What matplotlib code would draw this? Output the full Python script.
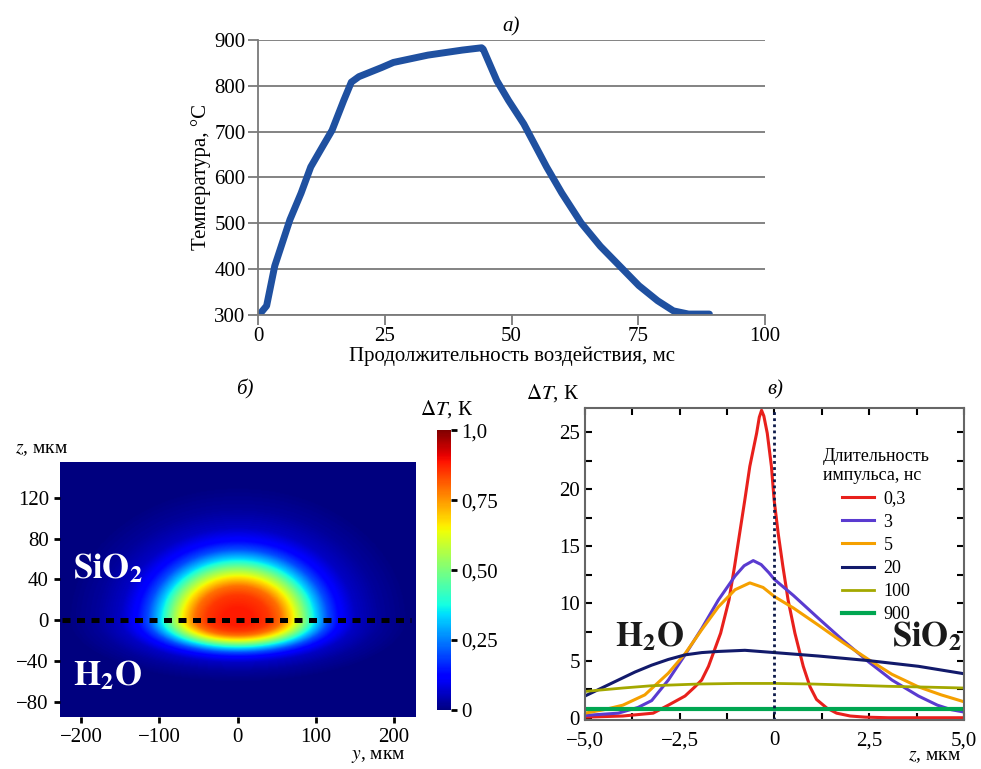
import numpy as np
import matplotlib
matplotlib.use('Agg')
import matplotlib.pyplot as plt
from matplotlib.ticker import MultipleLocator

plt.rcParams['font.family'] = ['Liberation Serif', 'DejaVu Serif']
plt.rcParams['mathtext.fontset'] = 'stix'

# --- panel a: temperature vs exposure time
t_ms = [0.2, 1.7, 3.3, 6.3, 8.5, 10.4, 12.7, 14.6, 16.9, 18.4, 19.9, 24.4, 26.7,
        33.5, 40.3, 44.1, 44.4, 47.1, 49.4, 52.4, 56.9, 59.9, 63.7, 67.5, 71.3,
        75.1, 78.8, 81.9, 84.9, 89.0]
temp_c = [300, 320, 407, 508, 566, 623, 667, 703, 768, 808, 820, 840, 851,
          867, 878, 883, 880, 811, 768, 717, 623, 566, 501, 450, 407,
          364, 331, 309, 302, 302]

# --- panel b: radial profile of dT read along z=0, plus vertical squeeze factors
prof_r = [0, 20, 40, 55, 70, 85, 100, 115, 130, 150, 180, 220, 400]
prof_dt = [0.88, 0.88, 0.85, 0.79, 0.66, 0.5, 0.33, 0.2, 0.12, 0.06, 0.025, 0.0, 0.0]
squeeze_up = 0.6
squeeze_down = 0.28

# --- panel c: dT(z) for pulse durations
z_03 = [-5.0, -4.0, -3.2, -2.8, -2.36, -2.1, -1.92, -1.74, -1.42, -1.20, -1.05,
        -0.92, -0.78, -0.65, -0.47, -0.40, -0.34, -0.28, -0.19, -0.08, -0.01, 0.10,
        0.22, 0.36, 0.54, 0.76, 0.94, 1.11, 1.38, 1.64, 2.0, 2.4, 3.0, 5.0]
dt_03 = [0.05, 0.15, 0.4, 1.1, 1.9, 2.7, 3.3, 4.5, 7.4, 10.3, 13.3,
         16.1, 19.1, 22.0, 24.9, 26.3, 26.9, 26.4, 24.9, 22.0, 19.1, 16.1,
         13.3, 10.3, 7.4, 4.5, 2.7, 1.6, 0.85, 0.4, 0.15, 0.05, 0.0, 0.0]
z_3 = [-5.0, -4.12, -3.6, -3.24, -2.8, -2.36, -1.92, -1.48, -1.04, -0.8, -0.56,
       -0.35, -0.15, 0.0, 0.5, 1.16, 1.8, 2.48, 3.1, 3.8, 4.3, 4.67, 5.0]
dt_3 = [0.2, 0.4, 0.9, 1.5, 3.3, 5.5, 7.8, 10.3, 12.4, 13.3, 13.75,
        13.4, 12.7, 12.1, 10.7, 8.7, 6.8, 4.9, 3.3, 1.9, 1.1, 0.7, 0.5]
z_5 = [-5.0, -4.5, -4.0, -3.42, -2.8, -2.36, -1.92, -1.48, -1.04, -0.65, -0.3,
       0.0, 0.5, 1.16, 1.8, 2.48, 3.1, 3.8, 4.4, 5.0]
dt_5 = [0.4, 0.7, 1.1, 2.0, 3.9, 5.6, 7.7, 9.7, 11.2, 11.8, 11.4,
        10.6, 9.6, 8.1, 6.6, 5.1, 3.8, 2.7, 2.0, 1.4]
z_20 = [-5.0, -4.56, -4.12, -3.68, -3.24, -2.8, -2.36, -1.92, -1.48, -0.78, 0.0,
        1.16, 2.48, 3.8, 5.0]
dt_20 = [1.9, 2.6, 3.3, 4.0, 4.6, 5.1, 5.5, 5.7, 5.8, 5.9, 5.7,
         5.4, 5.0, 4.5, 3.85]
z_100 = [-5.0, -4.0, -3.24, -2.0, -1.0, 0.0, 1.0, 2.0, 3.0, 4.0, 5.0]
dt_100 = [2.3, 2.6, 2.8, 2.95, 3.0, 3.0, 2.95, 2.85, 2.75, 2.68, 2.6]
z_900 = [-5.0, 5.0]
dt_900 = [0.75, 0.75]
pulse_labels = ['0,3', '3', '5', '20', '100', '900']
pulse_colors = ['#e8201c', '#5a3bd0', '#f5a000', '#121a6b', '#a3a800', '#00a651']

fig = plt.figure(figsize=(9.81, 7.69), dpi=100)

# ================= a)
ax1 = fig.add_axes([0.263, 0.5904, 0.517, 0.3576])
ax1.plot(t_ms, temp_c, color='#1f50a0', lw=5, solid_capstyle='round',
         solid_joinstyle='round')
ax1.set_xlim(0, 100)
ax1.set_ylim(300, 900)
ax1.set_xticks([0, 25, 50, 75, 100])
ax1.set_yticks(range(300, 901, 100))
ax1.grid(axis='y', color='#7a7a7a', lw=1.3)
ax1.set_axisbelow(True)
for s in ['top', 'right']:
    ax1.spines[s].set_visible(False)
for s in ['left', 'bottom']:
    ax1.spines[s].set_color('#7a7a7a')
    ax1.spines[s].set_linewidth(1.3)
ax1.tick_params(labelsize=15, length=7, width=1.3, color='#7a7a7a', pad=2)
ax1.tick_params(axis='x', pad=2)
ax1.set_xlabel('Продолжительность воздействия, мс', fontsize=15, labelpad=0)
ax1.set_ylabel('Температура, °C', fontsize=15, labelpad=2)
ax1.set_title('а)', fontsize=15, style='italic', pad=6)

# ================= б)
ax2 = fig.add_axes([0.0612, 0.0676, 0.362, 0.3316])
yy = np.linspace(-227, 227, 400)
zz = np.linspace(-95, 155, 260)
Y, Z = np.meshgrid(yy, zz)
sq = np.where(Z > 0, squeeze_up, squeeze_down)
R = np.sqrt(Y ** 2 + (Z / sq) ** 2)
field = np.interp(R, prof_r, prof_dt)
im = ax2.imshow(field, origin='lower', extent=[-227, 227, -95, 155], cmap='jet',
                vmin=0, vmax=1, aspect='auto', interpolation='bilinear')
ax2.plot([-225, 222], [0, 0], color='k', lw=3.6, ls=(0, (1.6, 1.3)))
ax2.set_xlim(-227, 227)
ax2.set_ylim(-95, 155)
ax2.set_xticks([-200, -100, 0, 100, 200])
ax2.set_xticklabels(['−200', '−100', '0', '100', '200'])
ax2.set_yticks([-80, -40, 0, 40, 80, 120])
ax2.set_yticklabels(['−80', '−40', '0', '40', '80', '120'])
ax2.tick_params(labelsize=15, length=4, width=2, pad=4)
for s in ax2.spines.values():
    s.set_visible(False)
ax2.text(-210, 50, r'$\mathbf{SiO}_\mathbf{2}$', color='white', fontsize=25,
         ha='left', va='center')
ax2.text(-210, -55, r'$\mathbf{H}_\mathbf{2}\mathbf{O}$', color='white', fontsize=25,
         ha='left', va='center')
fig.text(0.015, 0.415, '$z$, мкм', fontsize=14, ha='left', va='center')
fig.text(0.413, 0.016, '$y$, мкм', fontsize=14, ha='right', va='center')
fig.text(0.25, 0.493, 'б)', fontsize=15, style='italic', ha='center', va='center')

cax = fig.add_axes([0.4455, 0.0767, 0.0143, 0.364])
cb = fig.colorbar(im, cax=cax, ticks=[0, 0.25, 0.5, 0.75, 1.0])
cb.ax.set_yticklabels(['0', '0,25', '0,50', '0,75', '1,0'])
cb.ax.tick_params(labelsize=15, length=4, width=2, pad=3)
cb.outline.set_visible(False)
fig.text(0.455, 0.468, r'$\Delta T$, К', fontsize=15, ha='center', va='center')

# ================= в)
ax3 = fig.add_axes([0.5963, 0.0637, 0.3863, 0.4057])
zs = [z_03, z_3, z_5, z_20, z_100, z_900]
dts = [dt_03, dt_3, dt_5, dt_20, dt_100, dt_900]
widths = [2.2, 2.2, 2.2, 2.2, 2.0, 3.0]
for zv, vals, lab, col, w in zip(zs, dts, pulse_labels, pulse_colors, widths):
    ax3.plot(zv, vals, color=col, lw=w, label=lab, solid_joinstyle='round')
ax3.axvline(0, color='#0d1a4a', lw=2, ls=(0, (1, 1.2)))
ax3.set_xlim(-5, 5)
ax3.set_ylim(-0.2, 27.1)
ax3.set_xticks([-5, -2.5, 0, 2.5, 5])
ax3.set_xticklabels(['−5,0', '−2,5', '0', '2,5', '5,0'])
ax3.set_yticks([0, 5, 10, 15, 20, 25])
ax3.xaxis.set_minor_locator(MultipleLocator(1.25))
ax3.yaxis.set_minor_locator(MultipleLocator(2.5))
ax3.tick_params(which='both', direction='in', top=True, right=True, length=5,
                width=1.5, labelsize=15)
ax3.tick_params(axis='x', pad=8)
for s in ax3.spines.values():
    s.set_color('#666666')
    s.set_linewidth(1.5)
leg = ax3.legend(loc='upper right', bbox_to_anchor=(0.952, 0.925), frameon=False,
                 fontsize=13, title='Длительность\nимпульса, нс', title_fontsize=13,
                 handlelength=1.8, labelspacing=0.34, handletextpad=0.5)
ax3.text(-4.2, 7.0, r'$\mathbf{H}_\mathbf{2}\mathbf{O}$', color='#1a1a1a', fontsize=25,
         ha='left', va='center')
ax3.text(4.95, 7.0, r'$\mathbf{SiO}_\mathbf{2}$', color='#1a1a1a', fontsize=25,
         ha='right', va='center')
fig.text(0.59, 0.489, r'$\Delta T$, К', fontsize=15, ha='right', va='center')
fig.text(0.98, 0.016, '$z$, мкм', fontsize=14, ha='right', va='center')
fig.text(0.79, 0.493, 'в)', fontsize=15, style='italic', ha='center', va='center')

fig.savefig('out.png', dpi=100)
